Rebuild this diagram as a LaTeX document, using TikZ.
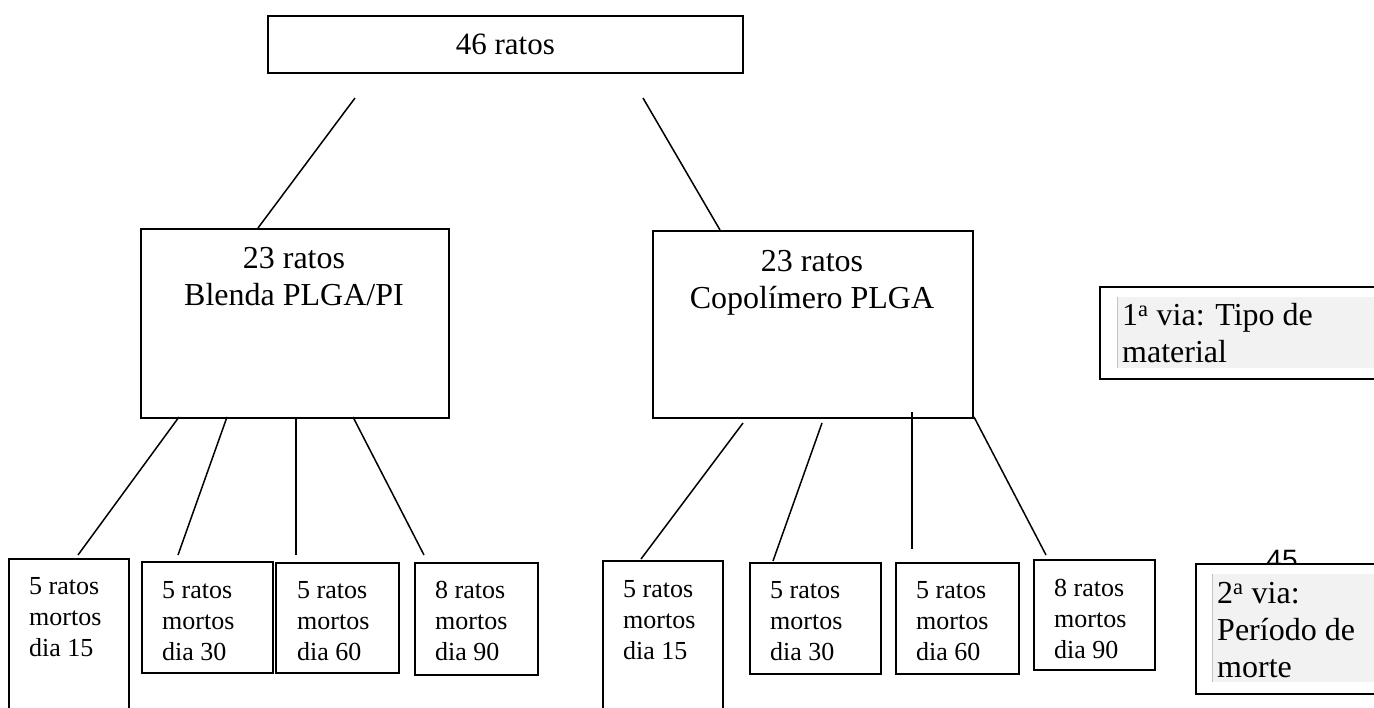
\documentclass[tikz,border=0pt]{standalone}
\usepackage{fontspec}
\setmainfont{Liberation Serif}
\newfontfamily\pagenumfont{Liberation Sans}
\definecolor{fieldgray}{HTML}{F2F2F2}
\definecolor{fieldedge}{HTML}{C4C4C4}

\begin{document}
\begin{tikzpicture}[x=1pt, y=-1pt,
    box/.style={draw, line width=1.8pt, anchor=north west, inner sep=0},
    bigtext/.style={anchor=north, inner sep=0, align=center, font=\fontsize{32}{37}\selectfont},
    smalltext/.style={anchor=north west, inner sep=0, align=left, font=\fontsize{26}{31}\selectfont},
    viatext/.style={anchor=north west, inner sep=0, align=left, font=\fontsize{32}{37}\selectfont},
    link/.style={line width=1.5pt}]
      \useasboundingbox (0,0) rectangle (1374,708);
      \clip (0,0) rectangle (1374,708);

      % top
      \node[box, minimum width=475pt, minimum height=57pt, font=\fontsize{31}{37}\selectfont] (all) at (267,15) {46 ratos};

      % 1a via
      \node[box, minimum width=308pt, minimum height=189pt] (blenda) at (140,228) {};
      \node[bigtext] (blendatxt) at (294,247) {23 ratos\\Blenda PLGA/PI};
      \node[box, minimum width=320pt, minimum height=187pt] (copol) at (652,230) {};
      \node[bigtext] (copoltxt) at (812,250) {23 ratos\\Copolímero PLGA};

      % 2a via, blenda
      \node[box, minimum width=120pt, minimum height=170pt] (b15) at (8,558) {};
      \node[smalltext] (b15txt) at (29,577) {5 ratos\\mortos\\dia 15};
      \node[box, minimum width=131pt, minimum height=111pt] (b30) at (141,561) {};
      \node[smalltext] (b30txt) at (162,581) {5 ratos\\mortos\\dia 30};
      \node[box, minimum width=123pt, minimum height=110pt] (b60) at (275,562) {};
      \node[smalltext] (b60txt) at (297,581) {5 ratos\\mortos\\dia 60};
      \node[box, minimum width=123pt, minimum height=112pt] (b90) at (414,562) {};
      \node[smalltext] (b90txt) at (435,581) {8 ratos\\mortos\\dia 90};

      % 2a via, copolimero
      \node[box, minimum width=120pt, minimum height=170pt] (c15) at (602,560) {};
      \node[smalltext] (c15txt) at (623,580) {5 ratos\\mortos\\dia 15};
      \node[box, minimum width=131pt, minimum height=111pt] (c30) at (749,562) {};
      \node[smalltext] (c30txt) at (770,581) {5 ratos\\mortos\\dia 30};
      \node[box, minimum width=123pt, minimum height=111pt] (c60) at (895,562) {};
      \node[smalltext] (c60txt) at (916,581) {5 ratos\\mortos\\dia 60};
      \node[box, minimum width=121pt, minimum height=110pt] (c90) at (1033,559) {};
      \node[smalltext] (c90txt) at (1054,579) {8 ratos\\mortos\\dia 90};

      % connectors
      \coordinate (all-l) at (355,98);   \coordinate (blenda-t) at (258,228);
      \coordinate (all-r) at (643,98);   \coordinate (copol-t) at (720,230);
      \draw[link] (all-l) -- (blenda-t);
      \draw[link] (all-r) -- (copol-t);

      \coordinate (blenda-1) at (179,417); \coordinate (b15-t) at (78,555);
      \coordinate (blenda-2) at (227,417); \coordinate (b30-t) at (178,555);
      \coordinate (blenda-3) at (296,417); \coordinate (b60-t) at (296,555);
      \coordinate (blenda-4) at (353,417); \coordinate (b90-t) at (424,555);
      \draw[link] (blenda-1) -- (b15-t);
      \draw[link] (blenda-2) -- (b30-t);
      \draw[link] (blenda-3) -- (b60-t);
      \draw[link] (blenda-4) -- (b90-t);

      \coordinate (copol-1) at (743,423); \coordinate (c15-t) at (641,559);
      \coordinate (copol-2) at (822,423); \coordinate (c30-t) at (773,561);
      \coordinate (copol-3) at (912,412); \coordinate (c60-t) at (912,549);
      \coordinate (copol-4) at (974,417); \coordinate (c90-t) at (1046,555);
      \draw[link] (copol-1) -- (c15-t);
      \draw[link] (copol-2) -- (c30-t);
      \draw[link] (copol-3) -- (c60-t);
      \draw[link] (copol-4) -- (c90-t);

      % legenda
      \node[box, line width=2.4pt, fill=white, minimum width=300pt, minimum height=92pt] (via1) at (1099,286) {};
      \fill[fieldgray] (1117,297) rectangle (1400,368);
      \draw[fieldedge, line width=0.8pt] (1117,297) -- (1117,368);
      \node[viatext] (via1txt) at (1122,303) {1\textsuperscript{a} via: Tipo de\\material};

      \node[anchor=north, inner sep=0, font=\pagenumfont\fontsize{28}{30}\selectfont] (pagenum) at (1282,550) {45};
      \node[box, line width=2pt, fill=white, minimum width=205pt, minimum height=130pt] (via2) at (1195,563) {};
      \fill[fieldgray] (1212,574) rectangle (1400,682);
      \draw[fieldedge, line width=0.8pt] (1212,574) -- (1212,682);
      \node[viatext] (via2txt) at (1217,582) {2\textsuperscript{a} via:\\Período de\\morte};
    \end{tikzpicture}
\end{document}
